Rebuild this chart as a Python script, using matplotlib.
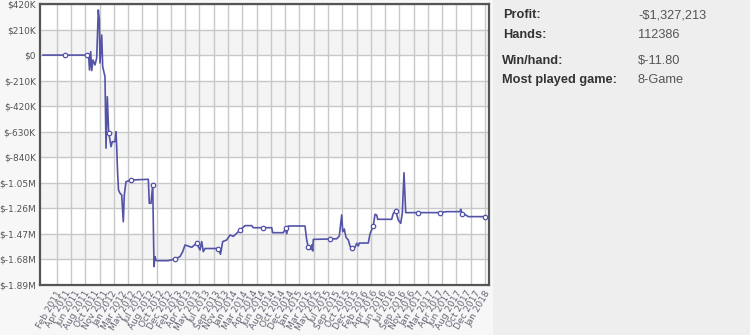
import matplotlib
matplotlib.use("Agg")
import matplotlib.pyplot as plt
import numpy as np
from matplotlib.patches import Rectangle

# profit curve, x = session index, y = profit in $K
session = [0, 44, 45.5, 46.5, 47.7, 48.7, 50, 52, 53.7, 55.3, 56.3, 57, 58.7, 59.7, 62, 63,
           64.3, 65.7, 67, 68, 69.3, 72, 73, 73.7, 74.5, 75.5, 77, 78.7, 80.3, 81.3, 83, 88,
           105.3, 106.3, 108, 109.7, 111, 112, 113, 114, 125.3, 132, 137, 139.7, 142, 148.7,
           153.7, 157, 158.7, 160.3, 162, 175.3, 177.5, 179.7, 183.7, 187, 190.3, 197, 202,
           208.7, 210.3, 228.7, 229.7, 240.3, 242.7, 243.7, 245.3, 262, 263.7, 265.3, 267.7,
           268.7, 269.7, 270.3, 293.7, 296.3, 298.7, 299.7, 301.3, 303, 305.3, 307, 308.7,
           312, 313.7, 315.3, 316.3, 325.3, 327, 330.3, 332, 333.7, 334.7, 348.7, 350.3,
           352.7, 355.3, 357.7, 359.3, 361, 362.7, 397, 403.7, 417, 417.7, 419.3, 421, 425.3, 442]
profit = [0, 0, 10, -122, 28, -128, -40, -81, -24, 371, 288, -65, 165, -95, -178, -765,
          -342, -641, -698, -753, -712, -712, -630, -753, -950, -1109, -1136, -1150, -1370,
          -1150, -1041, -1027, -1021, -1218, -1218, -1068, -1739, -1657, -1684, -1690, -1690,
          -1676, -1657, -1616, -1561, -1580, -1547, -1602, -1533, -1616, -1590, -1590, -1637,
          -1533, -1520, -1479, -1490, -1440, -1402, -1402, -1419, -1419, -1460, -1460, -1424,
          -1470, -1405, -1405, -1520, -1580, -1597, -1560, -1610, -1515, -1510, -1487, -1314,
          -1452, -1430, -1498, -1520, -1569, -1586, -1580, -1547, -1569, -1545, -1545, -1471,
          -1402, -1309, -1315, -1350, -1350, -1301, -1282, -1356, -1383, -1301, -967, -1295,
          -1295, -1287, -1287, -1268, -1309, -1305, -1328, -1328]

marker_session = [22, 44, 65.7, 88, 109.7, 132, 153.7, 175.3, 197, 220.3, 242.7, 265.3,
                  287, 308.7, 330.3, 352.7, 375.3, 397, 419.3, 442]
marker_profit = [0, 0, -641, -1027, -1068, -1676, -1547, -1590, -1440, -1419, -1424,
                 -1580, -1515, -1586, -1402, -1282, -1295, -1295, -1309, -1328]

date_labels = ["Feb 2011", "Apr 2011", "Jun 2011", "Aug 2011", "Oct 2011", "Nov 2011",
               "Jan 2012", "Mar 2012", "May 2012", "Jul 2012", "Aug 2012", "Oct 2012", "Dec 2012",
               "Feb 2013", "Apr 2013", "May 2013", "Jul 2013", "Sep 2013", "Nov 2013",
               "Jan 2014", "Mar 2014", "Apr 2014", "Jun 2014", "Aug 2014", "Oct 2014", "Dec 2014",
               "Jan 2015", "Mar 2015", "May 2015", "Jul 2015", "Sep 2015", "Oct 2015", "Dec 2015",
               "Feb 2016", "Apr 2016", "Jun 2016", "Jul 2016", "Sep 2016", "Nov 2016",
               "Jan 2017", "Mar 2017", "Apr 2017", "Jun 2017", "Aug 2017", "Oct 2017", "Dec 2017",
               "Jan 2018"]

y_ticks = [420, 210, 0, -210, -420, -630, -840, -1050, -1260, -1470, -1680, -1890]

stats_labels = ["Profit:", "Hands:", "Win/hand:", "Most played game:"]
stats_values = ["-$1,327,213", "112386", "$-11.80", "8-Game"]


def money(v):
    if v == 0:
        return "$0"
    if abs(v) >= 1000:
        return "$%.2fM" % (v / 1000.0)
    return "$%dK" % v


line_color = "#5353a8"

fig = plt.figure(figsize=(7.5, 3.35), dpi=100)
fig.patch.set_facecolor("#f7f7f7")
fig.patches.append(Rectangle((493 / 750, 0), 1, 1, transform=fig.transFigure,
                             facecolor="#eeeeee", edgecolor="none", zorder=0))

ax = fig.add_axes([40 / 750, 50 / 335, 449 / 750, 281 / 335])
ax.set_facecolor("white")

# alternating bands
for i in range(len(y_ticks) - 1):
    if i % 2 == 1:
        ax.axhspan(y_ticks[i + 1], y_ticks[i], color="#f4f4f4", zorder=0, lw=0)

ax.plot(session, profit, color=line_color, lw=1.2, zorder=3)
ax.plot(marker_session, marker_profit, ls="none", marker="o", ms=3.2, mfc="white",
        mec=line_color, mew=0.9, zorder=4)

ax.set_xlim(-3, 446)
ax.set_ylim(-1890, 420)

# date labels spread evenly over the axis
label_pos = np.linspace(13, 441, len(date_labels))
ax.set_xticks(label_pos)
ax.set_xticklabels(date_labels, rotation=60, ha="right", rotation_mode="anchor",
                   fontsize=6.5, color="#666677")
grid_pos = np.linspace(13.7, 442, 31)
ax.set_xticks(grid_pos, minor=True)
ax.grid(True, which="minor", axis="x", color="#c8c8c8", lw=1)
ax.set_yticks(y_ticks)
ax.set_yticklabels([money(v) for v in y_ticks], fontsize=6.5, color="#555555")
ax.grid(True, which="major", axis="y", color="#c8c8c8", lw=1)
ax.tick_params(which="both", length=0, pad=3)
ax.set_axisbelow(True)

for s in ax.spines.values():
    s.set_color("#555555")
    s.set_linewidth(1.6)

# stats panel
ys = [15, 35, 61, 80]
xs = [503, 503, 502, 502]
for lab, val, y, x in zip(stats_labels, stats_values, ys, xs):
    fig.text(x / 750, 1 - y / 335, lab, fontsize=9.2, fontweight="bold", color="#333333",
             family="Liberation Sans", va="center")
    fig.text(638 / 750, 1 - y / 335, val, fontsize=9.2, color="#555555",
             family="Liberation Sans", va="center")

fig.savefig("out.png", dpi=100, facecolor=fig.get_facecolor())
